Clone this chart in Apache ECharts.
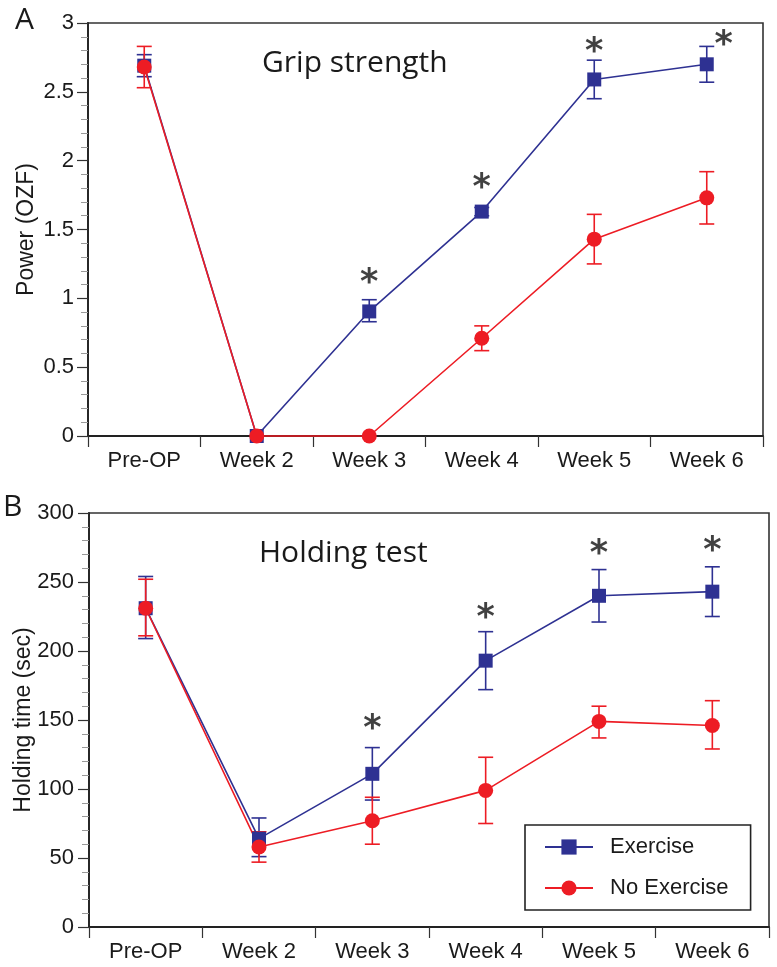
<!DOCTYPE html>
<html><head><meta charset="utf-8">
<script src="https://cdn.jsdelivr.net/npm/echarts@6/dist/echarts.min.js"></script>
<style>html,body{margin:0;padding:0;background:#fff}#c{width:777px;height:967px}</style>
</head><body><div id="c"></div>
<script>
const categories = ['Pre-OP','Week 2','Week 3','Week 4','Week 5','Week 6'];
const seriesNames = ['Exercise','No Exercise'];
// Panel A: Grip strength
const gripExercise      = [2.69, 0, 0.905, 1.63, 2.59, 2.70];
const gripExerciseLow   = [2.61, 0, 0.83, 1.60, 2.45, 2.57];
const gripExerciseHigh  = [2.77, 0, 0.99, 1.66, 2.73, 2.83];
const gripNoExercise     = [2.68, 0, 0, 0.71, 1.43, 1.73];
const gripNoExerciseLow  = [2.53, 0, 0, 0.62, 1.25, 1.54];
const gripNoExerciseHigh = [2.83, 0, 0, 0.80, 1.61, 1.92];
const gripStars = [null, null, 1.17, 1.86, 2.85, 2.90];
// Panel B: Holding test
const holdExercise      = [231, 64, 111, 193, 240, 243];
const holdExerciseLow   = [209, 51, 92, 172, 221, 225];
const holdExerciseHigh  = [254, 79, 130, 214, 259, 261];
const holdNoExercise     = [231, 58, 77, 99, 149, 146];
const holdNoExerciseLow  = [211, 47, 60, 75, 137, 129];
const holdNoExerciseHigh = [252, 69, 94, 123, 160, 164];
const holdStars = [null, null, 149, 230, 276, 278];
const gripTicks = {min: 0, max: 3, interval: 0.5};
const holdTicks = {min: 0, max: 300, interval: 50};

const BLUE = '#2e3192', RED = '#ed1c24';
const LFONT = 'Liberation Sans, Arial, sans-serif';
const TFONT = 'Open Sans, Noto Sans, sans-serif';

function errorSeries(xi, yi, low, high, color) {
  return {
    type: 'custom', xAxisIndex: xi, yAxisIndex: yi, z: 3, silent: true, clip: false,
    data: low.map((l, i) => [i, l, high[i]]),
    encode: {x: 0, y: [1, 2]},
    renderItem: (params, api) => {
      if (api.value(1) === api.value(2)) return null;
      const lo = api.coord([api.value(0), api.value(1)]);
      const hi = api.coord([api.value(0), api.value(2)]);
      const hw = 7.5;
      const style = {stroke: color, lineWidth: 1.6};
      return {type: 'group', children: [
        {type: 'line', shape: {x1: lo[0], y1: lo[1], x2: hi[0], y2: hi[1]}, style},
        {type: 'line', shape: {x1: lo[0]-hw, y1: lo[1], x2: lo[0]+hw, y2: lo[1]}, style},
        {type: 'line', shape: {x1: hi[0]-hw, y1: hi[1], x2: hi[0]+hw, y2: hi[1]}, style}
      ]};
    }
  };
}
function lineSeries(name, xi, yi, data, color, symbol, size) {
  return {
    name, type: 'line', xAxisIndex: xi, yAxisIndex: yi, data, z: 4,
    symbol, symbolSize: size, showSymbol: true, clip: false,
    lineStyle: {color, width: 1.6}, itemStyle: {color},
    emphasis: {disabled: true}, animation: false
  };
}
function starSeries(xi, yi, stars, shiftLast) {
  const data = [];
  stars.forEach((v, i) => {
    if (v == null) return;
    const item = {value: [i, v]};
    if (shiftLast && i === stars.length - 1) item.label = {offset: [17, 9]};
    data.push(item);
  });
  return {
    type: 'scatter', xAxisIndex: xi, yAxisIndex: yi, data, symbolSize: 2, z: 5, silent: true,
    itemStyle: {color: 'rgba(0,0,0,0)'},
    label: {show: true, formatter: '*', position: 'inside', offset: [0, 9],
      fontFamily: 'DejaVu Sans, sans-serif', fontWeight: 'bold', fontSize: 35, color: '#111'}
  };
}
function xAxis(gi) {
  return {
    type: 'category', gridIndex: gi, data: categories, boundaryGap: true,
    axisLine: {lineStyle: {color: '#222', width: 1.8}},
    axisTick: {show: true, length: 11, lineStyle: {color: '#333', width: 1.2}},
    axisLabel: {fontFamily: LFONT, fontSize: 22, color: '#1a1a1a', margin: 14},
    splitLine: {show: false}
  };
}
function yAxis(gi, t, name, gap, margin) {
  return {
    type: 'value', gridIndex: gi, min: t.min, max: t.max, interval: t.interval,
    name, nameLocation: 'middle', nameGap: gap, nameMoveOverlap: false,
    nameTextStyle: {fontFamily: LFONT, fontSize: 23, color: '#1a1a1a'},
    axisLine: {show: true, lineStyle: {color: '#222', width: 1.8}},
    axisTick: {show: true, length: 11, lineStyle: {color: '#333', width: 1.2}},
    minorTick: {show: true, splitNumber: 5, length: 7, lineStyle: {color: '#999', width: 1}},
    axisLabel: {fontFamily: LFONT, fontSize: 22, color: '#1a1a1a', margin: margin},
    splitLine: {show: false}
  };
}

const chart = echarts.init(document.getElementById('c'), null, {renderer: 'canvas'});
chart.setOption({
  animation: false,
  backgroundColor: '#fff',
  grid: [
    {left: 88, top: 23, width: 675, height: 413, show: true, borderColor: '#333', borderWidth: 1.6, backgroundColor: 'transparent'},
    {left: 89, top: 513, width: 680, height: 414, show: true, borderColor: '#333', borderWidth: 1.6, backgroundColor: 'transparent'}
  ],
  xAxis: [xAxis(0), xAxis(1)],
  yAxis: [yAxis(0, gripTicks, 'Power (OZF)', 50, 14), yAxis(1, holdTicks, 'Holding time (sec)', 54, 15)],
  legend: {
    data: seriesNames, left: 525, top: 825, orient: 'vertical',
    itemWidth: 48, itemHeight: 19, itemGap: 19, padding: [11, 22, 11, 19],
    borderColor: '#222', borderWidth: 1.6, backgroundColor: '#fff',
    selectedMode: false,
    textStyle: {fontFamily: LFONT, fontSize: 22, color: '#1a1a1a', padding: [0, 0, 0, 12]}
  },
  graphic: [
    {type: 'text', left: 15, top: 5, style: {text: 'A', font: '30px ' + TFONT, fill: '#1a1a1a'}},
    {type: 'text', left: 3, top: 492, style: {text: 'B', font: '30px ' + TFONT, fill: '#1a1a1a'}},
    {type: 'text', left: 262, top: 48, style: {text: 'Grip strength', font: '30px ' + TFONT, fill: '#1a1a1a'}},
    {type: 'text', left: 259, top: 538, style: {text: 'Holding test', font: '30px ' + TFONT, fill: '#1a1a1a'}}
  ],
  series: [
    errorSeries(0, 0, gripExerciseLow, gripExerciseHigh, BLUE),
    lineSeries(seriesNames[0], 0, 0, gripExercise, BLUE, 'rect', 14),
    errorSeries(0, 0, gripNoExerciseLow, gripNoExerciseHigh, RED),
    lineSeries(seriesNames[1], 0, 0, gripNoExercise, RED, 'circle', 15),
    starSeries(0, 0, gripStars, true),
    errorSeries(1, 1, holdExerciseLow, holdExerciseHigh, BLUE),
    lineSeries(seriesNames[0], 1, 1, holdExercise, BLUE, 'rect', 14),
    errorSeries(1, 1, holdNoExerciseLow, holdNoExerciseHigh, RED),
    lineSeries(seriesNames[1], 1, 1, holdNoExercise, RED, 'circle', 15),
    starSeries(1, 1, holdStars, false)
  ]
});
</script></body></html>
